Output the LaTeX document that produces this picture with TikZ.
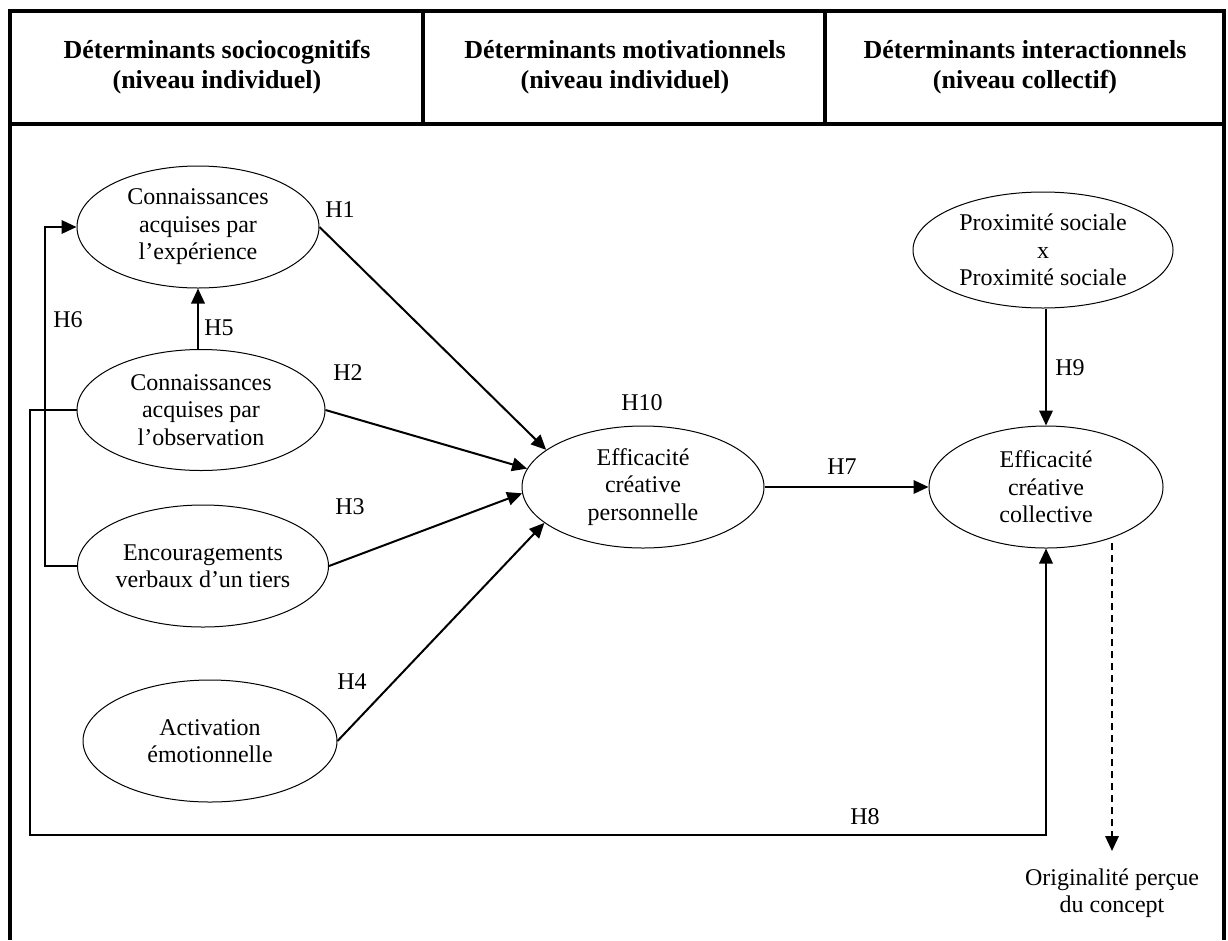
\documentclass[tikz,border=0pt]{standalone}
\usepackage{fontspec}
\setmainfont{Liberation Serif}
\usetikzlibrary{shapes.geometric,arrows.meta}
\begin{document}
\begin{tikzpicture}[x=1pt,y=-1pt,
  ell/.style={draw, ellipse, line width=1pt, inner sep=0pt, align=center,
              font=\fontsize{24}{27.5}\selectfont},
  lab/.style={font=\fontsize{24}{27.5}\selectfont, inner sep=0pt},
  hdr/.style={align=center, font=\bfseries\fontsize{26}{30.5}\selectfont},
  conn/.style={line width=2pt, -{Triangle[length=15pt,width=13.5pt]}},
  dashconn/.style={line width=1.7pt, dash pattern=on 7pt off 5pt, -{Triangle[length=15pt,width=13.5pt]}},
  framelines/.style={line width=4pt, line join=miter}]
\useasboundingbox (0,0) rectangle (1228,940);

% frame
\draw[framelines] (9.5,940) -- (9.5,11) -- (1224,11) -- (1224,940);
\draw[framelines] (9.5,124) -- (1224,124);
\draw[framelines] (423,11) -- (423,124);
\draw[framelines] (825,11) -- (825,124);

% headers
\node[hdr] (hA) at (217,67) {Déterminants sociocognitifs\\(niveau individuel)};
\node[hdr] (hB) at (625,67) {Déterminants motivationnels\\(niveau individuel)};
\node[hdr] (hC) at (1025,67) {Déterminants interactionnels\\(niveau collectif)};

% ellipses
\node[ell, minimum width=242pt, minimum height=122pt] (A) at (198,227) {Connaissances\\acquises par\\l’expérience};
\node[ell, minimum width=248pt, minimum height=121pt] (B) at (201,410) {Connaissances\\acquises par\\l’observation};
\node[ell, minimum width=251pt, minimum height=122pt] (C) at (203,566) {Encouragements\\verbaux d’un tiers};
\node[ell, minimum width=254pt, minimum height=122pt] (D) at (210,741) {Activation\\émotionnelle};
\node[ell, minimum width=242pt, minimum height=122pt] (E) at (643,487) {Efficacité\\créative\\personnelle};
\node[ell, minimum width=234pt, minimum height=122pt] (F) at (1046,487) {Efficacité\\créative\\collective};
\node[ell, minimum width=260pt, minimum height=116pt] (G) at (1043,250) {Proximité sociale\\x\\Proximité sociale};
\node[lab, align=center] (O) at (1112,893) {Originalité perçue\\du concept};

% labels
\node[lab] (l1) at (340,210) {H1};
\node[lab] (l2) at (348,373) {H2};
\node[lab] (l3) at (350,507) {H3};
\node[lab] (l4) at (352,682) {H4};
\node[lab] (l5) at (219,328) {H5};
\node[lab] (l6) at (68,320) {H6};
\node[lab] (l7) at (842,467) {H7};
\node[lab] (l8) at (865,817) {H8};
\node[lab] (l9) at (1070,368) {H9};
\node[lab] (l10) at (642,403) {H10};

% helper coordinates
\coordinate (h6x) at (45,0);
\coordinate (h8x) at (30,0);
\coordinate (h8y) at (0,835);
\coordinate (ds) at (1112,543);
\coordinate (de) at (1112,851);

% connectors
\draw[conn] (A.east) -- (E.159);
\draw[conn] (B.east) -- (E.171);
\draw[conn] (C.east) -- (E.183);
\draw[conn] (D.east) -- (E.200);
\draw[conn] (A.south |- B.north) -- (A.south);
\draw[conn] (C.west) -- (C.west -| h6x) -- (A.west -| h6x) -- (A.west);
\draw[conn] (B.west) -- (B.west -| h8x) -- (h8x |- h8y) -- (F.south |- h8y) -- (F.south);
\draw[conn] (E.east) -- (F.west);
\draw[conn] (F.north |- G.south) -- (F.north);
\draw[dashconn] (ds) -- (de);
\end{tikzpicture}
\end{document}
